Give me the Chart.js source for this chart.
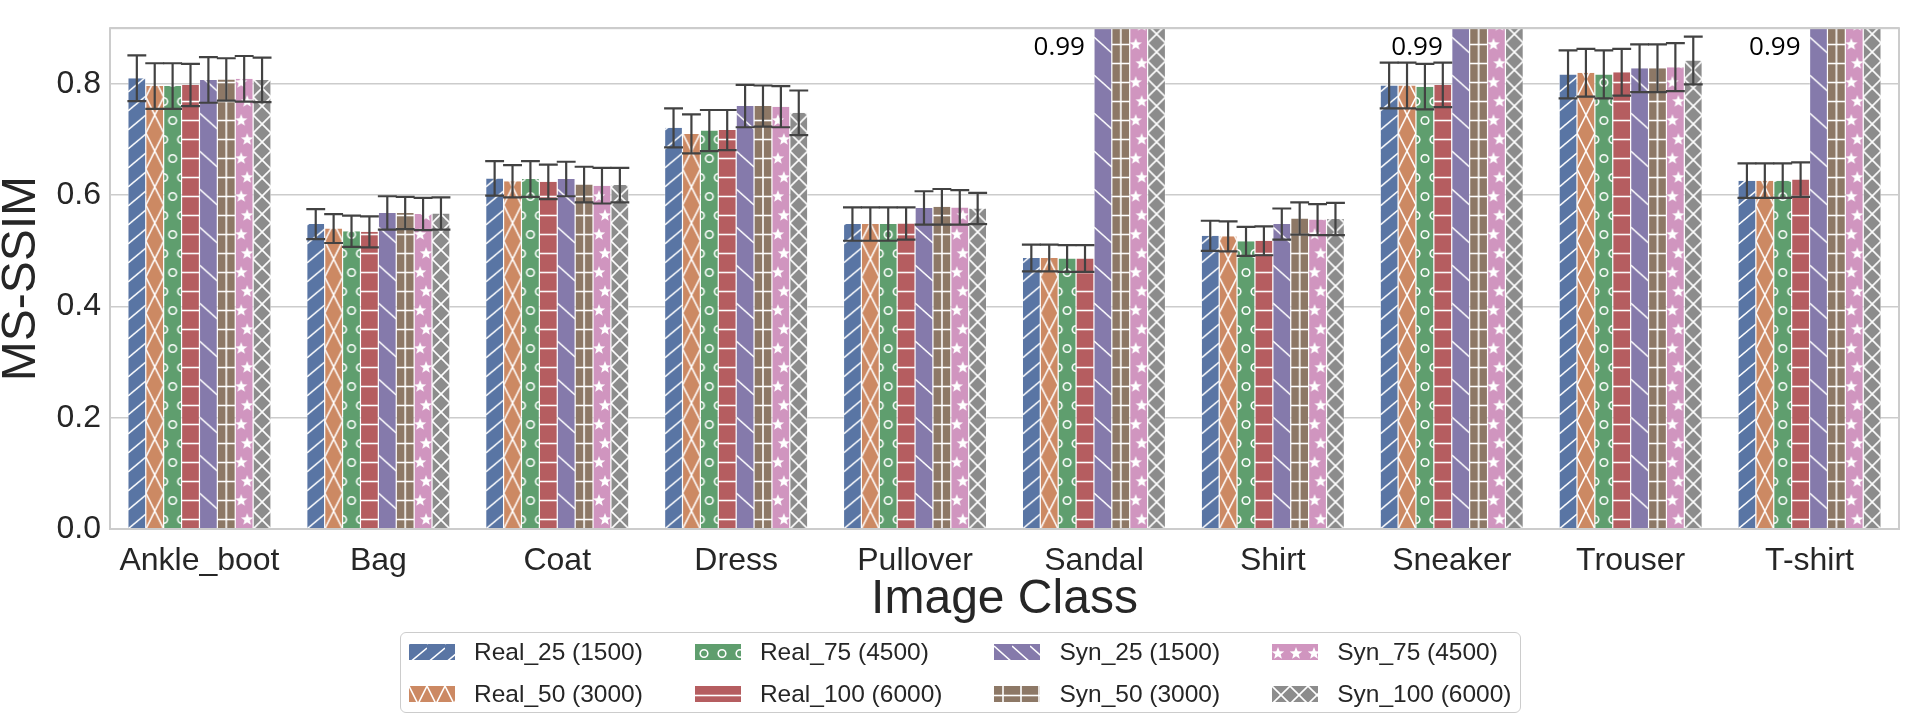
<!DOCTYPE html>
<html>
<head>
<meta charset="utf-8">
<script src="https://cdn.jsdelivr.net/npm/chart.js@4.4.1/dist/chart.umd.min.js"></script>
<style>
  body { margin: 0; background: #fff; }
  #wrap { position: relative; width: 1909px; height: 718px; }
  #legend {
    position: absolute; left: 400px; top: 632px;
    display: grid; grid-template-rows: repeat(2, 24px); grid-auto-flow: column;
    column-gap: 52px; row-gap: 18px;
    padding: 7px 8px 6px 8px;
    border: 1.5px solid #cccccc; border-radius: 6px;
    font-family: 'Liberation Sans', Arial, sans-serif; font-size: 24.5px; color: #262626;
  }
  #legend .item { display: flex; align-items: center; white-space: nowrap; }
  #legend canvas { margin-right: 19px; }
</style>
</head>
<body>
<div id="wrap">
  <canvas id="chart" width="1909" height="718"></canvas>
  <div id="legend"></div>
</div>
<script>
const categories = ['Ankle_boot', 'Bag', 'Coat', 'Dress', 'Pullover', 'Sandal', 'Shirt', 'Sneaker', 'Trouser', 'T-shirt'];
const seriesNames = ['Real_25 (1500)', 'Real_50 (3000)', 'Real_75 (4500)', 'Real_100 (6000)',
                     'Syn_25 (1500)', 'Syn_50 (3000)', 'Syn_75 (4500)', 'Syn_100 (6000)'];

// mean MS-SSIM per class
const real25  = [0.810, 0.548, 0.630, 0.721, 0.548, 0.487, 0.527, 0.797, 0.817, 0.626];
const real50  = [0.796, 0.540, 0.625, 0.710, 0.548, 0.487, 0.526, 0.797, 0.820, 0.626];
const real75  = [0.796, 0.535, 0.629, 0.716, 0.548, 0.486, 0.517, 0.795, 0.817, 0.626];
const real100 = [0.798, 0.534, 0.624, 0.717, 0.549, 0.486, 0.518, 0.798, 0.821, 0.628];
const syn25   = [0.807, 0.568, 0.629, 0.760, 0.577, 0.99, 0.548, 0.99, 0.828, 0.99];
const syn50   = [0.808, 0.568, 0.619, 0.760, 0.579, 0.99, 0.558, 0.99, 0.828, 0.99];
const syn75   = [0.809, 0.566, 0.617, 0.759, 0.578, 0.99, 0.556, 0.99, 0.830, 0.99];
const syn100  = [0.807, 0.567, 0.618, 0.748, 0.576, 0.99, 0.557, 0.99, 0.842, 0.99];

// half length of the error bars
const real25Err  = [0.041, 0.027, 0.031, 0.035, 0.030, 0.024, 0.027, 0.041, 0.043, 0.031];
const real50Err  = [0.041, 0.026, 0.029, 0.035, 0.030, 0.024, 0.027, 0.041, 0.043, 0.031];
const real75Err  = [0.041, 0.028, 0.032, 0.037, 0.030, 0.024, 0.026, 0.041, 0.043, 0.031];
const real100Err = [0.038, 0.028, 0.031, 0.036, 0.029, 0.024, 0.026, 0.040, 0.042, 0.031];
const syn25Err   = [0.041, 0.030, 0.031, 0.038, 0.030, 0.005, 0.028, 0.005, 0.043, 0.005];
const syn50Err   = [0.038, 0.029, 0.032, 0.037, 0.032, 0.005, 0.029, 0.005, 0.043, 0.005];
const syn75Err   = [0.041, 0.029, 0.032, 0.037, 0.031, 0.005, 0.028, 0.005, 0.043, 0.005];
const syn100Err  = [0.040, 0.029, 0.031, 0.040, 0.028, 0.005, 0.029, 0.005, 0.043, 0.005];

const means = [real25, real50, real75, real100, syn25, syn50, syn75, syn100];
const errs = [real25Err, real50Err, real75Err, real100Err, syn25Err, syn50Err, syn75Err, syn100Err];

const colors = ['#5975a4', '#cc8963', '#5f9e6e', '#b55d60', '#857aab', '#8d7866', '#d095bf', '#8c8c8c'];
const hatches = ['slash', 'bigx', 'circle', 'hline', 'backslash', 'plus', 'star', 'cross'];
const Y_MAX = 0.9;
const TILE_W = 18;
const FONT = "'Liberation Sans', Arial, sans-serif";

function star(g, cx, cy, R, r) {
  g.beginPath();
  for (let k = 0; k < 10; k++) {
    const a = -Math.PI / 2 + k * Math.PI / 5;
    const rad = k % 2 ? r : R;
    g.lineTo(cx + rad * Math.cos(a), cy + rad * Math.sin(a));
  }
  g.closePath();
  g.fill();
}

// one tile = one bar width; bars get the pattern shifted to their left edge
function makeTile(kind, color) {
  const w = TILE_W;
  const h = {slash: 19, bigx: 36, circle: 38, hline: 19, backslash: 38, plus: 19, star: 38, cross: 18}[kind];
  const t = document.createElement('canvas');
  t.width = w; t.height = h;
  const g = t.getContext('2d');
  g.fillStyle = color;
  g.fillRect(0, 0, w, h);
  g.strokeStyle = '#ffffff';
  g.fillStyle = '#ffffff';
  g.lineWidth = 1.6;
  const seg = (x1, y1, x2, y2) => {
    for (const dy of [-h, 0, h]) {
      g.beginPath(); g.moveTo(x1, y1 + dy); g.lineTo(x2, y2 + dy); g.stroke();
    }
  };
  switch (kind) {
    case 'slash': seg(0, h, w, h - 15); break;
    case 'bigx': seg(0, 0, w, h); seg(w, 0, 0, h); break;
    case 'circle':
      for (const [cx, cy] of [[w / 2, h / 4], [0, 3 * h / 4], [w, 3 * h / 4]]) {
        for (const dy of [-h, 0, h]) { g.beginPath(); g.arc(cx, cy + dy, 3.8, 0, 2 * Math.PI); g.stroke(); }
      }
      break;
    case 'hline': seg(0, h / 2, w, h / 2); break;
    case 'backslash': seg(0, 2, w, 18); break;
    case 'plus': seg(0, h / 2, w, h / 2); seg(w / 2, 0, w / 2, h); break;
    case 'star':
      for (const [cx, cy] of [[6, h / 4], [12, 3 * h / 4]]) {
        for (const dy of [-h, 0, h]) star(g, cx, cy + dy, 6.6, 2.8);
      }
      break;
    case 'cross': seg(0, 0, w, h); seg(w, 0, 0, h); break;
  }
  return t;
}

const tiles = hatches.map((k, i) => makeTile(k, colors[i]));

function barFill(c) {
  const chart = c.chart;
  const xs = chart.scales.x;
  if (c.type !== 'data' || !xs || !chart.chartArea) return colors[c.datasetIndex];
  const slot = xs.getPixelForValue(1) - xs.getPixelForValue(0);
  const bw = slot * 0.8 / means.length;
  const left = xs.getPixelForValue(c.dataIndex) - slot * 0.4 + c.datasetIndex * bw;
  const p = chart.ctx.createPattern(tiles[c.datasetIndex], 'repeat');
  p.setTransform(new DOMMatrix([bw / TILE_W, 0, 0, 1, left, chart.chartArea.bottom]));
  return p;
}

const frame = {
  id: 'frame',
  afterDatasetsDraw(chart) {
    const {ctx, chartArea: a} = chart;
    ctx.save();
    ctx.strokeStyle = '#cccccc';
    ctx.lineWidth = 2;
    ctx.strokeRect(a.left, a.top, a.right - a.left, a.bottom - a.top);
    ctx.restore();
  }
};

const errorBars = {
  id: 'errorBars',
  afterDatasetsDraw(chart) {
    const {ctx, chartArea: a, scales: {y}} = chart;
    ctx.save();
    ctx.beginPath();
    ctx.rect(a.left, a.top, a.right - a.left, a.bottom - a.top);
    ctx.clip();
    ctx.strokeStyle = '#424242';
    ctx.lineWidth = 2.2;
    means.forEach((arr, di) => {
      chart.getDatasetMeta(di).data.forEach((bar, i) => {
        const top = y.getPixelForValue(arr[i] + errs[di][i]);
        const bot = y.getPixelForValue(arr[i] - errs[di][i]);
        const half = bar.width / 2 + 0.5;
        ctx.beginPath();
        ctx.moveTo(bar.x, top); ctx.lineTo(bar.x, bot);
        ctx.moveTo(bar.x - half, top); ctx.lineTo(bar.x + half, top);
        ctx.moveTo(bar.x - half, bot); ctx.lineTo(bar.x + half, bot);
        ctx.stroke();
      });
    });
    ctx.restore();
  }
};

// value text for bars that run past the top of the axis
const clippedLabels = {
  id: 'clippedLabels',
  afterDraw(chart) {
    const {ctx, chartArea: a} = chart;
    ctx.save();
    ctx.font = "26px 'Open Sans', sans-serif";
    ctx.fillStyle = '#000000';
    ctx.textAlign = 'right';
    ctx.textBaseline = 'middle';
    categories.forEach((cat, i) => {
      const di = means.findIndex(arr => arr[i] > Y_MAX);
      if (di < 0) return;
      const bar = chart.getDatasetMeta(di).data[i];
      ctx.fillText(means[di][i].toFixed(2), bar.x - bar.width / 2 - 9, a.top + 19);
    });
    ctx.restore();
  }
};

Chart.defaults.font.family = FONT;
Chart.defaults.color = '#262626';

new Chart(document.getElementById('chart'), {
  type: 'bar',
  data: {
    datasets: means.map((arr, di) => ({
      label: seriesNames[di],
      data: arr.map((v, i) => ({x: i, y: v})),
      backgroundColor: barFill,
      borderColor: '#ffffff',
      borderWidth: {left: 0.6, right: 0.6, top: 0, bottom: 0},
      categoryPercentage: 0.8,
      barPercentage: 1.0
    }))
  },
  options: {
    responsive: false,
    devicePixelRatio: 1,
    animation: false,
    events: [],
    layout: {padding: {left: 0, right: 10, top: 7, bottom: 94}},
    plugins: {legend: {display: false}, tooltip: {enabled: false}},
    scales: {
      x: {
        type: 'linear',
        min: -0.5,
        max: categories.length - 0.5,
        offset: false,
        grid: {display: false},
        border: {display: false},
        afterBuildTicks: s => { s.ticks = categories.map((c, i) => ({value: i})); },
        ticks: {
          autoSkip: false, maxRotation: 0, padding: 5,
          font: {size: 32}, color: '#262626',
          callback: v => categories[v]
        },
        title: {display: true, text: 'Image Class', font: {size: 48, lineHeight: 1}, padding: 0, color: '#262626'},
        afterFit: s => { s.height = 95; }
      },
      y: {
        min: 0,
        max: Y_MAX,
        grid: {color: '#cccccc', lineWidth: 1.5, drawTicks: false},
        border: {display: false},
        ticks: {
          stepSize: 0.2, padding: 9, font: {size: 32}, color: '#262626',
          callback: v => v < 0.85 ? v.toFixed(1) : ''
        },
        title: {display: true, text: 'MS-SSIM', font: {size: 48, lineHeight: 1}, padding: {top: -2, bottom: 0}, color: '#262626'},
        afterFit: s => { s.width = 110; }
      }
    }
  },
  plugins: [frame, errorBars, clippedLabels]
});

// legend: two rows, filled column by column
const legend = document.getElementById('legend');
seriesNames.forEach((name, i) => {
  const item = document.createElement('div');
  item.className = 'item';
  const sw = document.createElement('canvas');
  sw.width = 46; sw.height = 16;
  const g = sw.getContext('2d');
  g.fillStyle = g.createPattern(tiles[i], 'repeat');
  g.fillRect(0, 0, 46, 16);
  const label = document.createElement('span');
  label.textContent = name;
  item.appendChild(sw);
  item.appendChild(label);
  legend.appendChild(item);
});
</script>
</body>
</html>
